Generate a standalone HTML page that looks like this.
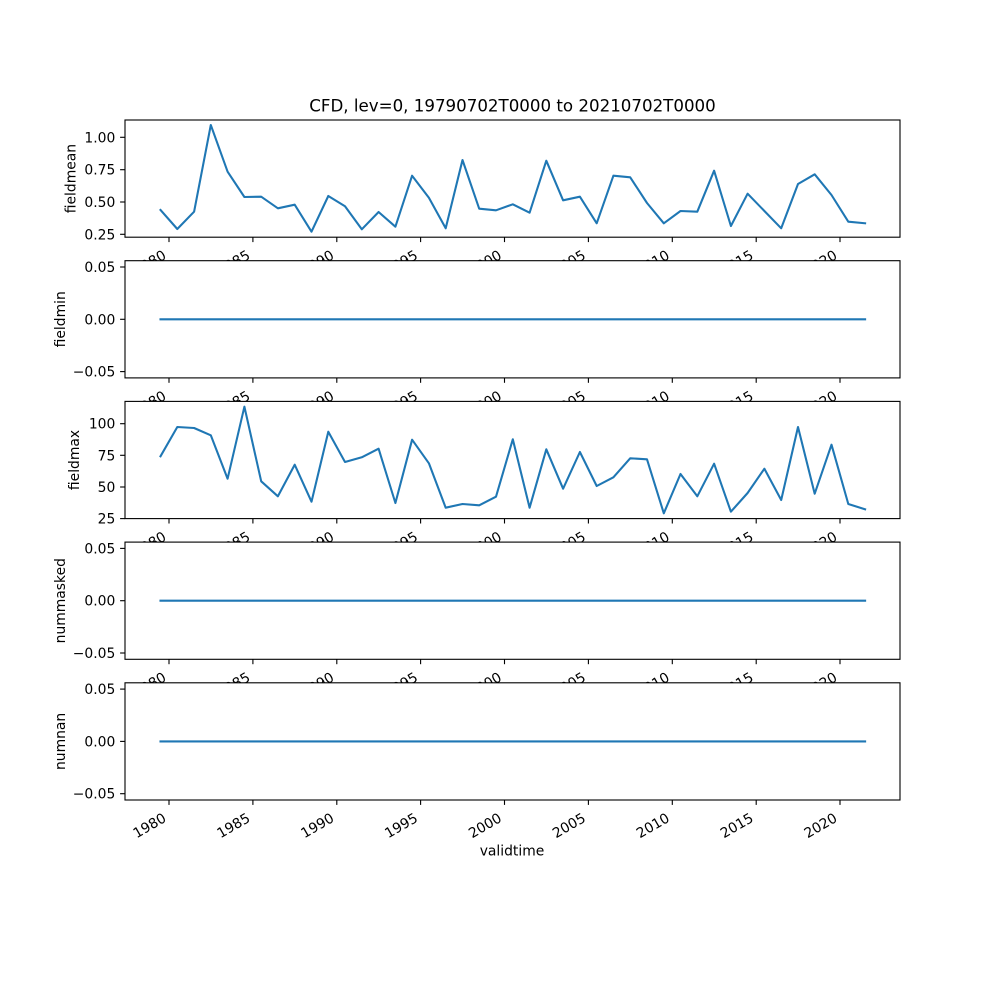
<!DOCTYPE html>
<html>
<head>
<meta charset="utf-8">
<style>
html,body{margin:0;padding:0;background:#fff;}
svg{display:block;}
text{font-family:"DejaVu Sans","Liberation Sans",sans-serif;fill:#000;}
</style>
</head>
<body>
<svg width="1000" height="1000" viewBox="0 0 1000 1000" xmlns="http://www.w3.org/2000/svg">
<rect x="0" y="0" width="1000" height="1000" fill="#fff"/>

<!-- Title -->
<text x="512.5" y="111.7" font-size="16.67" text-anchor="middle">CFD, lev=0, 19790702T0000 to 20210702T0000</text>

<!-- ============ AXIS 1: fieldmean ============ -->
<g>
<rect x="125" y="120" width="775" height="117.2" fill="#fff"/>
<polyline fill="none" stroke="#1f77b4" stroke-width="2.08" stroke-linejoin="round" stroke-linecap="square"
points="160.5,210 177.3,229 194.1,211.7 210.8,125 227.6,171.7 244.4,197 261.2,196.7 277.9,208.3 294.7,204.7 311.5,231.7 328.3,196 345.0,206.3 361.8,229.3 378.6,212 395.4,226.7 412.1,175.7 428.9,197.7 445.7,228.3 462.5,160 479.2,208.7 496.0,210.3 512.8,204.3 529.6,212.7 546.3,160.7 563.1,200.3 579.9,196.7 596.7,223.3 613.4,175.7 630.2,177.3 647.0,203 663.8,223.3 680.5,211 697.3,211.7 714.1,170.7 730.9,226 747.6,193.7 764.4,211 781.2,228.3 798.0,184 814.7,174.3 831.5,195 848.3,221.7 865.1,223.3"/>
<rect x="125" y="120" width="775" height="117.2" fill="none" stroke="#000" stroke-width="1.11"/>
<g stroke="#000" stroke-width="1.11">
<line x1="120.1" y1="137.3" x2="125" y2="137.3"/>
<line x1="120.1" y1="169.7" x2="125" y2="169.7"/>
<line x1="120.1" y1="202.0" x2="125" y2="202.0"/>
<line x1="120.1" y1="234.3" x2="125" y2="234.3"/>
<line x1="169.0" y1="237.2" x2="169.0" y2="242.1"/>
<line x1="252.9" y1="237.2" x2="252.9" y2="242.1"/>
<line x1="336.8" y1="237.2" x2="336.8" y2="242.1"/>
<line x1="420.6" y1="237.2" x2="420.6" y2="242.1"/>
<line x1="504.5" y1="237.2" x2="504.5" y2="242.1"/>
<line x1="588.4" y1="237.2" x2="588.4" y2="242.1"/>
<line x1="672.3" y1="237.2" x2="672.3" y2="242.1"/>
<line x1="756.2" y1="237.2" x2="756.2" y2="242.1"/>
<line x1="840.0" y1="237.2" x2="840.0" y2="242.1"/>
</g>
<g font-size="13.89" text-anchor="end">
<text x="115.3" y="142.3">1.00</text>
<text x="115.3" y="174.7">0.75</text>
<text x="115.3" y="207.0">0.50</text>
<text x="115.3" y="239.3">0.25</text>
</g>
<g font-size="13.89" text-anchor="end">
<text transform="translate(167.2,258.0) rotate(-30)">1980</text>
<text transform="translate(251.1,258.0) rotate(-30)">1985</text>
<text transform="translate(335.0,258.0) rotate(-30)">1990</text>
<text transform="translate(418.8,258.0) rotate(-30)">1995</text>
<text transform="translate(502.7,258.0) rotate(-30)">2000</text>
<text transform="translate(586.6,258.0) rotate(-30)">2005</text>
<text transform="translate(670.5,258.0) rotate(-30)">2010</text>
<text transform="translate(754.4,258.0) rotate(-30)">2015</text>
<text transform="translate(838.2,258.0) rotate(-30)">2020</text>
</g>
<text font-size="13.89" text-anchor="middle" transform="translate(75.5,178.6) rotate(-90)">fieldmean</text>
</g>

<!-- ============ AXIS 2: fieldmin ============ -->
<g>
<rect x="125" y="260.7" width="775" height="117.2" fill="#fff"/>
<line x1="160.5" y1="319.3" x2="865.1" y2="319.3" stroke="#1f77b4" stroke-width="2.08" stroke-linecap="square"/>
<rect x="125" y="260.7" width="775" height="117.2" fill="none" stroke="#000" stroke-width="1.11"/>
<g stroke="#000" stroke-width="1.11">
<line x1="120.1" y1="267.0" x2="125" y2="267.0"/>
<line x1="120.1" y1="319.3" x2="125" y2="319.3"/>
<line x1="120.1" y1="371.6" x2="125" y2="371.6"/>
<line x1="169.0" y1="377.9" x2="169.0" y2="382.8"/>
<line x1="252.9" y1="377.9" x2="252.9" y2="382.8"/>
<line x1="336.8" y1="377.9" x2="336.8" y2="382.8"/>
<line x1="420.6" y1="377.9" x2="420.6" y2="382.8"/>
<line x1="504.5" y1="377.9" x2="504.5" y2="382.8"/>
<line x1="588.4" y1="377.9" x2="588.4" y2="382.8"/>
<line x1="672.3" y1="377.9" x2="672.3" y2="382.8"/>
<line x1="756.2" y1="377.9" x2="756.2" y2="382.8"/>
<line x1="840.0" y1="377.9" x2="840.0" y2="382.8"/>
</g>
<g font-size="13.89" text-anchor="end">
<text x="115.3" y="272.0">0.05</text>
<text x="115.3" y="324.3">0.00</text>
<text x="115.3" y="376.6">−0.05</text>
</g>
<g font-size="13.89" text-anchor="end">
<text transform="translate(167.2,398.7) rotate(-30)">1980</text>
<text transform="translate(251.1,398.7) rotate(-30)">1985</text>
<text transform="translate(335.0,398.7) rotate(-30)">1990</text>
<text transform="translate(418.8,398.7) rotate(-30)">1995</text>
<text transform="translate(502.7,398.7) rotate(-30)">2000</text>
<text transform="translate(586.6,398.7) rotate(-30)">2005</text>
<text transform="translate(670.5,398.7) rotate(-30)">2010</text>
<text transform="translate(754.4,398.7) rotate(-30)">2015</text>
<text transform="translate(838.2,398.7) rotate(-30)">2020</text>
</g>
<text font-size="13.89" text-anchor="middle" transform="translate(64.8,319.3) rotate(-90)">fieldmin</text>
</g>

<!-- ============ AXIS 3: fieldmax ============ -->
<g>
<rect x="125" y="401.4" width="775" height="117.2" fill="#fff"/>
<polyline fill="none" stroke="#1f77b4" stroke-width="2.08" stroke-linejoin="round" stroke-linecap="square"
points="160.5,456.3 177.3,427 194.1,428 210.8,435.3 227.6,478.7 244.4,406.7 261.2,481.3 277.9,496.3 294.7,464.7 311.5,501.7 328.3,431.7 345.0,462 361.8,457.3 378.6,448.7 395.4,503 412.1,439.7 428.9,463.3 445.7,507.7 462.5,504 479.2,505.3 496.0,496.7 512.8,439.3 529.6,507.7 546.3,449.3 563.1,488.7 579.9,452 596.7,486 613.4,477.3 630.2,458.3 647.0,459.3 663.8,513.3 680.5,474 697.3,496.3 714.1,463.7 730.9,511.7 747.6,493 764.4,468.7 781.2,500 798.0,427 814.7,493.7 831.5,444.7 848.3,504 865.1,509.3"/>
<rect x="125" y="401.4" width="775" height="117.2" fill="none" stroke="#000" stroke-width="1.11"/>
<g stroke="#000" stroke-width="1.11">
<line x1="120.1" y1="423.7" x2="125" y2="423.7"/>
<line x1="120.1" y1="455.3" x2="125" y2="455.3"/>
<line x1="120.1" y1="487.0" x2="125" y2="487.0"/>
<line x1="120.1" y1="518.6" x2="125" y2="518.6"/>
<line x1="169.0" y1="518.6" x2="169.0" y2="523.5"/>
<line x1="252.9" y1="518.6" x2="252.9" y2="523.5"/>
<line x1="336.8" y1="518.6" x2="336.8" y2="523.5"/>
<line x1="420.6" y1="518.6" x2="420.6" y2="523.5"/>
<line x1="504.5" y1="518.6" x2="504.5" y2="523.5"/>
<line x1="588.4" y1="518.6" x2="588.4" y2="523.5"/>
<line x1="672.3" y1="518.6" x2="672.3" y2="523.5"/>
<line x1="756.2" y1="518.6" x2="756.2" y2="523.5"/>
<line x1="840.0" y1="518.6" x2="840.0" y2="523.5"/>
</g>
<g font-size="13.89" text-anchor="end">
<text x="115.3" y="428.7">100</text>
<text x="115.3" y="460.3">75</text>
<text x="115.3" y="492.0">50</text>
<text x="115.3" y="523.6">25</text>
</g>
<g font-size="13.89" text-anchor="end">
<text transform="translate(167.2,539.4) rotate(-30)">1980</text>
<text transform="translate(251.1,539.4) rotate(-30)">1985</text>
<text transform="translate(335.0,539.4) rotate(-30)">1990</text>
<text transform="translate(418.8,539.4) rotate(-30)">1995</text>
<text transform="translate(502.7,539.4) rotate(-30)">2000</text>
<text transform="translate(586.6,539.4) rotate(-30)">2005</text>
<text transform="translate(670.5,539.4) rotate(-30)">2010</text>
<text transform="translate(754.4,539.4) rotate(-30)">2015</text>
<text transform="translate(838.2,539.4) rotate(-30)">2020</text>
</g>
<text font-size="13.89" text-anchor="middle" transform="translate(79.2,460.0) rotate(-90)">fieldmax</text>
</g>

<!-- ============ AXIS 4: nummasked ============ -->
<g>
<rect x="125" y="542.1" width="775" height="117.2" fill="#fff"/>
<line x1="160.5" y1="600.7" x2="865.1" y2="600.7" stroke="#1f77b4" stroke-width="2.08" stroke-linecap="square"/>
<rect x="125" y="542.1" width="775" height="117.2" fill="none" stroke="#000" stroke-width="1.11"/>
<g stroke="#000" stroke-width="1.11">
<line x1="120.1" y1="548.4" x2="125" y2="548.4"/>
<line x1="120.1" y1="600.7" x2="125" y2="600.7"/>
<line x1="120.1" y1="653.0" x2="125" y2="653.0"/>
<line x1="169.0" y1="659.3" x2="169.0" y2="664.2"/>
<line x1="252.9" y1="659.3" x2="252.9" y2="664.2"/>
<line x1="336.8" y1="659.3" x2="336.8" y2="664.2"/>
<line x1="420.6" y1="659.3" x2="420.6" y2="664.2"/>
<line x1="504.5" y1="659.3" x2="504.5" y2="664.2"/>
<line x1="588.4" y1="659.3" x2="588.4" y2="664.2"/>
<line x1="672.3" y1="659.3" x2="672.3" y2="664.2"/>
<line x1="756.2" y1="659.3" x2="756.2" y2="664.2"/>
<line x1="840.0" y1="659.3" x2="840.0" y2="664.2"/>
</g>
<g font-size="13.89" text-anchor="end">
<text x="115.3" y="553.4">0.05</text>
<text x="115.3" y="605.7">0.00</text>
<text x="115.3" y="658.0">−0.05</text>
</g>
<g font-size="13.89" text-anchor="end">
<text transform="translate(167.2,680.1) rotate(-30)">1980</text>
<text transform="translate(251.1,680.1) rotate(-30)">1985</text>
<text transform="translate(335.0,680.1) rotate(-30)">1990</text>
<text transform="translate(418.8,680.1) rotate(-30)">1995</text>
<text transform="translate(502.7,680.1) rotate(-30)">2000</text>
<text transform="translate(586.6,680.1) rotate(-30)">2005</text>
<text transform="translate(670.5,680.1) rotate(-30)">2010</text>
<text transform="translate(754.4,680.1) rotate(-30)">2015</text>
<text transform="translate(838.2,680.1) rotate(-30)">2020</text>
</g>
<text font-size="13.89" text-anchor="middle" transform="translate(64.8,600.7) rotate(-90)">nummasked</text>
</g>

<!-- ============ AXIS 5: numnan ============ -->
<g>
<rect x="125" y="682.8" width="775" height="117.2" fill="#fff"/>
<line x1="160.5" y1="741.4" x2="865.1" y2="741.4" stroke="#1f77b4" stroke-width="2.08" stroke-linecap="square"/>
<rect x="125" y="682.8" width="775" height="117.2" fill="none" stroke="#000" stroke-width="1.11"/>
<g stroke="#000" stroke-width="1.11">
<line x1="120.1" y1="689.1" x2="125" y2="689.1"/>
<line x1="120.1" y1="741.4" x2="125" y2="741.4"/>
<line x1="120.1" y1="793.7" x2="125" y2="793.7"/>
<line x1="169.0" y1="800" x2="169.0" y2="804.9"/>
<line x1="252.9" y1="800" x2="252.9" y2="804.9"/>
<line x1="336.8" y1="800" x2="336.8" y2="804.9"/>
<line x1="420.6" y1="800" x2="420.6" y2="804.9"/>
<line x1="504.5" y1="800" x2="504.5" y2="804.9"/>
<line x1="588.4" y1="800" x2="588.4" y2="804.9"/>
<line x1="672.3" y1="800" x2="672.3" y2="804.9"/>
<line x1="756.2" y1="800" x2="756.2" y2="804.9"/>
<line x1="840.0" y1="800" x2="840.0" y2="804.9"/>
</g>
<g font-size="13.89" text-anchor="end">
<text x="115.3" y="694.1">0.05</text>
<text x="115.3" y="746.4">0.00</text>
<text x="115.3" y="798.7">−0.05</text>
</g>
<g font-size="13.89" text-anchor="end">
<text transform="translate(167.2,820.8) rotate(-30)">1980</text>
<text transform="translate(251.1,820.8) rotate(-30)">1985</text>
<text transform="translate(335.0,820.8) rotate(-30)">1990</text>
<text transform="translate(418.8,820.8) rotate(-30)">1995</text>
<text transform="translate(502.7,820.8) rotate(-30)">2000</text>
<text transform="translate(586.6,820.8) rotate(-30)">2005</text>
<text transform="translate(670.5,820.8) rotate(-30)">2010</text>
<text transform="translate(754.4,820.8) rotate(-30)">2015</text>
<text transform="translate(838.2,820.8) rotate(-30)">2020</text>
</g>
<text font-size="13.89" text-anchor="middle" transform="translate(64.8,741.4) rotate(-90)">numnan</text>
</g>

<!-- x label -->
<text x="512" y="855.3" font-size="13.89" text-anchor="middle">validtime</text>
</svg>
</body>
</html>
